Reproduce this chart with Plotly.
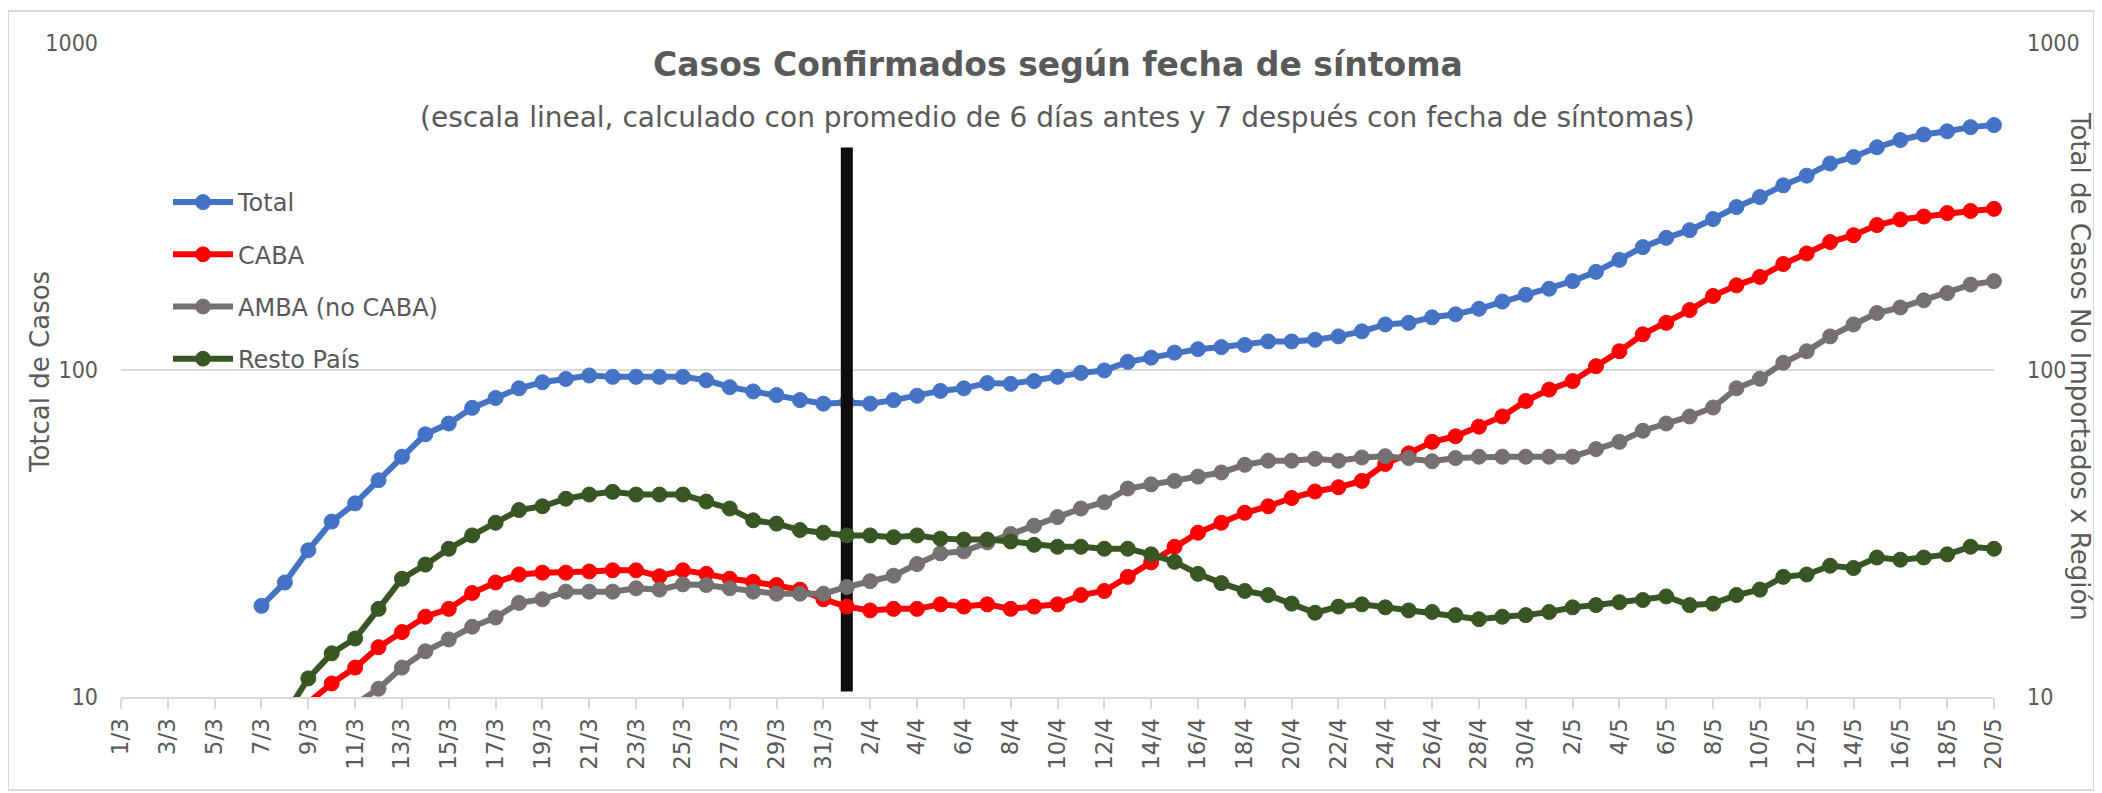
import math
import plotly.graph_objects as go

fechas = [
    "1/3", "2/3", "3/3", "4/3", "5/3", "6/3", "7/3", "8/3", "9/3", "10/3",
    "11/3", "12/3", "13/3", "14/3", "15/3", "16/3", "17/3", "18/3", "19/3", "20/3",
    "21/3", "22/3", "23/3", "24/3", "25/3", "26/3", "27/3", "28/3", "29/3", "30/3",
    "31/3", "1/4", "2/4", "3/4", "4/4", "5/4", "6/4", "7/4", "8/4", "9/4",
    "10/4", "11/4", "12/4", "13/4", "14/4", "15/4", "16/4", "17/4", "18/4", "19/4",
    "20/4", "21/4", "22/4", "23/4", "24/4", "25/4", "26/4", "27/4", "28/4", "29/4",
    "30/4", "1/5", "2/5", "3/5", "4/5", "5/5", "6/5", "7/5", "8/5", "9/5",
    "10/5", "11/5", "12/5", "13/5", "14/5", "15/5", "16/5", "17/5", "18/5", "19/5",
    "20/5",
]

total = [
    None, None, None, None, None, None, 19.0, 22.4, 28.1, 34.4,
    39.1, 46.0, 54.3, 63.6, 68.6, 76.6, 82.1, 87.9, 91.7, 93.9,
    96.2, 95.3, 95.3, 95.3, 95.3, 93.0, 88.6, 86.0, 83.8, 80.9,
    78.9, 79.6, 78.9, 80.9, 83.4, 86.3, 87.9, 91.2, 90.7, 92.5,
    95.3, 98.0, 99.7, 105.9, 109.1, 113.0, 115.8, 117.5, 119.3, 122.3,
    122.3, 123.7, 126.7, 131.3, 137.8, 139.4, 144.9, 148.0, 153.9, 161.9,
    169.9, 177.2, 187.0, 199.6, 217.2, 237.6, 253.6, 267.7, 289.5, 315.0,
    338.0, 367.0, 393.0, 428.0, 448.0, 480.0, 505.0, 525.0, 537.0, 553.0,
    561.0,
]

caba = [
    None, None, None, None, None, None, None, None, 9.6, 11.0,
    12.3, 14.2, 15.8, 17.6, 18.6, 20.8, 22.4, 23.7, 24.0, 24.0,
    24.2, 24.4, 24.4, 23.4, 24.4, 23.8, 23.0, 22.5, 22.0, 21.3,
    19.9, 18.9, 18.4, 18.6, 18.6, 19.2, 18.9, 19.2, 18.6, 18.9,
    19.2, 20.5, 21.1, 23.3, 25.8, 28.8, 31.8, 34.1, 36.6, 38.3,
    40.6, 42.5, 43.8, 45.8, 51.6, 55.6, 60.3, 62.7, 67.1, 72.1,
    80.4, 87.1, 92.5, 102.7, 114.1, 128.6, 139.4, 152.5, 168.4, 181.5,
    192.6, 210.9, 227.2, 246.2, 258.4, 277.5, 288.6, 294.6, 301.9, 306.4,
    311.0,
]

amba = [
    None, None, None, None, None, None, None, None, None, None,
    9.5, 10.6, 12.3, 13.8, 15.0, 16.4, 17.5, 19.4, 19.9, 21.0,
    21.0, 21.0, 21.5, 21.3, 22.1, 22.0, 21.5, 21.0, 20.7, 20.7,
    20.7, 21.7, 22.6, 23.5, 25.5, 27.5, 27.9, 29.7, 31.5, 33.4,
    35.5, 37.7, 39.4, 43.4, 44.7, 45.8, 47.2, 48.6, 51.3, 52.8,
    52.8, 53.5, 52.8, 54.0, 54.5, 53.8, 52.6, 53.8, 54.3, 54.3,
    54.3, 54.3, 54.3, 57.3, 60.3, 65.2, 68.6, 72.1, 76.8, 87.9,
    94.0, 105.2, 114.1, 126.7, 137.8, 149.4, 155.3, 163.4, 171.9, 182.5,
    187.0,
]

resto = [
    None, None, None, None, None, None, None, 8.8, 11.4, 13.6,
    15.1, 18.6, 23.0, 25.4, 28.4, 31.2, 34.1, 37.3, 38.3, 40.4,
    41.6, 42.4, 41.6, 41.6, 41.6, 39.6, 37.7, 34.7, 33.9, 32.4,
    31.8, 31.2, 31.2, 30.8, 31.2, 30.5, 30.3, 30.3, 29.9, 29.2,
    28.8, 28.8, 28.4, 28.4, 27.3, 25.9, 23.8, 22.3, 21.1, 20.5,
    19.3, 18.1, 18.9, 19.2, 18.8, 18.4, 18.2, 17.8, 17.3, 17.6,
    17.8, 18.2, 18.8, 19.1, 19.5, 19.8, 20.3, 19.1, 19.3, 20.5,
    21.3, 23.3, 23.7, 25.2, 24.8, 26.7, 26.3, 26.7, 27.3, 28.8,
    28.4,
]

series = [
    ("Total", total, "#4472C4", "y"),
    ("CABA", caba, "#FF0000", "y2"),
    ("AMBA (no CABA)", amba, "#767171", "y2"),
    ("Resto País", resto, "#375623", "y2"),
]

y_ticks = [10, 100, 1000]
tick_fechas = fechas[::2]
linea_fecha = "1/4"
linea_rango = [10.4, 479]

TXT = "#595959"
GRID = "#D9D9D9"
FONT = "DejaVu Sans"
NARROW = "Liberation Sans Narrow, DejaVu Sans Condensed, Liberation Sans"

# page body has an 8px margin; positions below are page pixels
OFF = 8
W, H = 2102 - OFF, 793 - OFF
L, R, T, B = 121 - OFF, 108, 43 - OFF, 96
pw, ph = W - L - R, H - T - B


def px_x(x):
    return (x - OFF - L) / pw


def px_y(y):
    return (H - B - (y - OFF)) / ph


fig = go.Figure()
for name, vals, color, yax in series:
    sizes = [0 if (v is not None and v < 10) else 15 for v in vals]
    fig.add_trace(go.Scatter(
        x=fechas, y=vals, name=name, mode="lines+markers", yaxis=yax,
        line=dict(color=color, width=6),
        marker=dict(color=color, size=sizes, symbol="circle", opacity=1,
                    line=dict(color=color, width=1)),
        cliponaxis=False, legendgroup=name,
    ))

fig.add_trace(go.Scatter(
    x=[linea_fecha, linea_fecha], y=linea_rango, mode="lines", yaxis="y",
    line=dict(color="#0D0D0D", width=12), showlegend=False, hoverinfo="skip",
))

axis_common = dict(
    type="log", range=[1, 3], tickvals=y_ticks, ticktext=[str(v) for v in y_ticks],
    tickfont=dict(family=NARROW, size=23, color=TXT), zeroline=False, showline=False,
    ticks="",
)

fig.update_layout(
    width=W, height=H,
    margin=dict(l=L, r=R, t=T, b=B),
    paper_bgcolor="white", plot_bgcolor="white",
    xaxis=dict(
        type="category", categoryorder="array", categoryarray=fechas,
        range=[0, len(fechas) - 1], tickmode="array", tickvals=tick_fechas,
        ticktext=tick_fechas, tickangle=-90, ticks="outside", ticklen=10,
        tickcolor=GRID, tickwidth=2, showline=True, linecolor=GRID, linewidth=2,
        showgrid=False, tickfont=dict(family=FONT, size=23, color=TXT),
    ),
    yaxis=dict(**axis_common, showgrid=True, gridcolor=GRID, gridwidth=2,
               ticklabelstandoff=22),
    yaxis2=dict(**axis_common, overlaying="y", side="right", showgrid=False,
                ticklabelstandoff=32),
    showlegend=True,
    legend=dict(
        x=px_x(168), y=px_y(180), xanchor="left", yanchor="top",
        font=dict(family=FONT, size=24, color=TXT), bgcolor="rgba(0,0,0,0)",
        tracegroupgap=18, traceorder="grouped", itemwidth=60,
    ),
    annotations=[
        dict(text="<b>Casos Confirmados según fecha de síntoma</b>", xref="paper", yref="paper",
             x=0.5, y=px_y(64), xanchor="center", yanchor="middle", showarrow=False,
             font=dict(family=FONT, size=33, color=TXT)),
        dict(text="(escala lineal, calculado con promedio de 6 días antes y 7 después con fecha de síntomas)",
             xref="paper", yref="paper", x=0.5, y=px_y(117), xanchor="center", yanchor="middle",
             showarrow=False, font=dict(family=FONT, size=28, color=TXT)),
        dict(text="Totcal de Casos", xref="paper", yref="paper", x=px_x(40), y=px_y(372),
             xanchor="center", yanchor="middle", textangle=-90, showarrow=False,
             font=dict(family=FONT, size=26, color=TXT)),
        dict(text="Total de Casos No Importados x Región", xref="paper", yref="paper",
             x=px_x(2080), y=px_y(366), xanchor="center", yanchor="middle", textangle=90,
             showarrow=False, font=dict(family=FONT, size=26, color=TXT)),
    ],
    shapes=[
        dict(type="rect", xref="paper", yref="paper", x0=px_x(8), x1=px_x(2094),
             y0=px_y(790), y1=px_y(11), line=dict(color=GRID, width=2), layer="below"),
    ],
)

fig.write_html("out.html")
